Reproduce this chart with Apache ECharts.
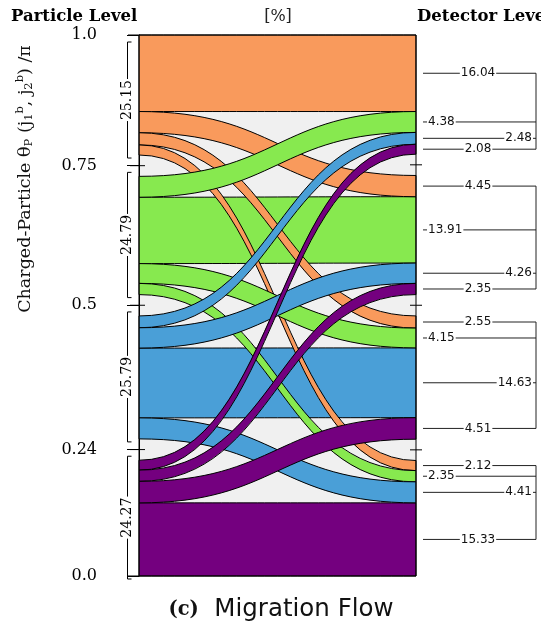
<!DOCTYPE html>
<html>
<head>
<meta charset="utf-8">
<script src="https://cdn.jsdelivr.net/npm/echarts@6/dist/echarts.min.js"></script>
<style>
  html, body { margin: 0; padding: 0; background: #fff; }
  #chart { width: 541px; height: 631px; }
</style>
</head>
<body>
<div id="chart"></div>
<script>
// Bin colours, top bin first
const binColors = ['#f99a5c', '#87e94f', '#4a9fd7', '#74007f'];
// Bin edges of the particle-level observable, top to bottom
const binEdgeLabels = ['1.0', '0.75', '0.5', '0.24', '0.0'];
// Migration fractions in percent: one row per particle-level bin,
// one column per detector-level bin (both ordered top to bottom)
const orangeRow = [16.04, 4.45, 2.55, 2.12];
const greenRow  = [4.38, 13.91, 4.15, 2.35];
const blueRow   = [2.48, 4.26, 14.63, 4.41];
const purpleRow = [2.08, 2.35, 4.51, 15.33];
// Particle-level bin totals in percent
const particleTotals = [25.15, 24.79, 25.79, 24.27];
// Empty space between neighbouring bins, in percent units
const binGap = 4.47;

const rows = [orangeRow, greenRow, blueRow, purpleRow];
const nBins = rows.length;
const sum = a => a.reduce((s, x) => s + x, 0);
const rowSums = rows.map(sum);
const colSums = rows[0].map((_, j) => sum(rows.map(r => r[j])));
const yMax = sum(rowSums) + (nBins - 1) * binGap;

// Top of every bin on each side, in axis units
const leftTops = [], rightTops = [];
let accL = yMax, accR = yMax;
for (let i = 0; i < nBins; i++) {
  leftTops.push(accL); accL -= rowSums[i] + binGap;
  rightTops.push(accR); accR -= colSums[i] + binGap;
}
const leftGapMids = [], rightGapMids = [];
for (let i = 0; i < nBins - 1; i++) {
  leftGapMids.push(leftTops[i] - rowSums[i] - binGap / 2);
  rightGapMids.push(rightTops[i] - colSums[i] - binGap / 2);
}
// Axis edge positions, bottom to top, with their labels
const edgePositions = [0].concat(leftGapMids.slice().reverse(), [yMax]);
const edgeLabelsAsc = binEdgeLabels.slice().reverse();

// One band per (particle bin, detector bin): [src, dst, value, leftTop, rightTop]
const flowItems = [];
for (let i = 0; i < nBins; i++) {
  for (let j = 0; j < nBins; j++) {
    const lt = leftTops[i] - sum(rows[i].slice(0, j));
    let rt = rightTops[j];
    for (let m = 0; m < i; m++) rt -= rows[m][j];
    flowItems.push([i, j, rows[i][j], lt, rt]);
  }
}
// Bins that stay in place are painted first, migrating bands on top
flowItems.sort((a, b) => ((a[0] !== a[1]) - (b[0] !== b[1])) || (a[0] - b[0]) || (a[1] - b[1]));

// Right-hand annotations: [dst, src, value, centre on the right edge]
const rightLabelItems = flowItems.map(f => [f[1], f[0], f[2], f[4] - f[2] / 2]);
const rightGroupItems = rightTops.map((t, j) => {
  const first = t - rows[0][j] / 2;
  const last = t - colSums[j] + rows[nBins - 1][j] / 2;
  return [j, first, last];
});
const leftBracketItems = leftTops.map((t, i) => [i, t, t - rowSums[i], particleTotals[i]]);

const serif = "'DejaVu Serif', serif";
const sans = "'DejaVu Sans', sans-serif";
const ink = '#000';

function labelFor(v) {
  let best = 0;
  edgePositions.forEach((p, k) => { if (Math.abs(p - v) < Math.abs(edgePositions[best] - v)) best = k; });
  return edgeLabelsAsc[best];
}

const chart = echarts.init(document.getElementById('chart'));
chart.setOption({
  animation: false,
  grid: { left: 139, right: 125, top: 35, bottom: 55, show: true, backgroundColor: '#f0f0f0', borderWidth: 0 },
  xAxis: { type: 'value', min: 0, max: 1, show: false },
  yAxis: {
    type: 'value', min: 0, max: yMax, offset: 23,
    axisLine: { show: true, lineStyle: { color: ink, width: 1 } },
    axisTick: { show: true, length: 12, customValues: edgePositions, lineStyle: { color: ink, width: 1 } },
    axisLabel: { customValues: edgePositions, formatter: v => labelFor(v), margin: 19,
                 fontFamily: serif, fontSize: 16, color: ink },
    splitLine: { show: false }
  },
  graphic: [
    { type: 'text', left: 11, top: 8, style: { text: 'Particle Level', font: "bold 16.5px 'DejaVu Serif'", fill: ink } },
    { type: 'text', x: 278, y: 17, style: { text: '[%]', fontSize: 16, fontFamily: serif, fill: '#222', align: 'center', verticalAlign: 'middle' } },
    { type: 'text', x: 417, y: 8, style: { text: 'Detector Level', font: "bold 16.5px 'DejaVu Serif'", fill: ink } },
    {
      type: 'text', x: 25, y: 179, rotation: Math.PI / 2,
      style: {
        text: '{n|Charged-Particle θ}{sub|P}{n| (j}{sub|1}{sup|b}{n|, j}{sub|2}{sup|b}{n|) /π}',
        align: 'center', verticalAlign: 'middle',
        rich: {
          n: { fontFamily: serif, fontSize: 17.5, lineHeight: 21, fill: '#111' },
          sub: { fontFamily: serif, fontSize: 11.5, lineHeight: 12, verticalAlign: 'bottom', fill: '#111' },
          sup: { fontFamily: serif, fontSize: 11.5, lineHeight: 12, verticalAlign: 'top', fill: '#111' }
        }
      }
    },
    {
      type: 'text', x: 281, y: 610,
      style: {
        text: '{b|(c)}{s|  Migration Flow}',
        align: 'center', verticalAlign: 'middle',
        rich: {
          b: { fontFamily: serif, fontWeight: 'bold', fontSize: 19.5, fill: '#111' },
          s: { fontFamily: sans, fontSize: 24.5, fill: '#111' }
        }
      }
    }
  ],
  series: [
    {
      // migration bands
      type: 'custom', coordinateSystem: 'cartesian2d', silent: true, clip: false, z: 2,
      data: flowItems,
      renderItem(params, api) {
        const s = api.value(0), v = api.value(2), lt = api.value(3), rt = api.value(4);
        const a = api.coord([0, lt]), ab = api.coord([0, lt - v]);
        const b = api.coord([1, rt]), bb = api.coord([1, rt - v]);
        const xm = (a[0] + b[0]) / 2;
        const d = 'M' + a[0] + ',' + a[1] +
          ' C' + xm + ',' + a[1] + ' ' + xm + ',' + b[1] + ' ' + b[0] + ',' + b[1] +
          ' L' + bb[0] + ',' + bb[1] +
          ' C' + xm + ',' + bb[1] + ' ' + xm + ',' + ab[1] + ' ' + ab[0] + ',' + ab[1] + ' Z';
        return { type: 'path', shape: { pathData: d }, style: { fill: binColors[s], stroke: ink, lineWidth: 1 } };
      }
    },
    {
      // plot frame and bin-edge ticks on both sides
      type: 'custom', coordinateSystem: 'cartesian2d', silent: true, clip: false, z: 5,
      data: [[0, 0]],
      renderItem(params, api) {
        const tl = api.coord([0, yMax]), br = api.coord([1, 0]);
        const xL = tl[0], xR = br[0];
        const kids = [{ type: 'rect', shape: { x: xL, y: tl[1], width: xR - xL, height: br[1] - tl[1] },
                        style: { fill: 'none', stroke: ink, lineWidth: 1 } }];
        [yMax, 0].forEach(v => {
          const y = api.coord([0, v])[1];
          kids.push({ type: 'line', shape: { x1: xL - 11, y1: y, x2: xL, y2: y }, style: { stroke: ink, lineWidth: 1 } });
        });
        leftGapMids.forEach(v => {
          const y = api.coord([0, v])[1];
          kids.push({ type: 'line', shape: { x1: xL - 9, y1: y, x2: xL + 6, y2: y }, style: { stroke: ink, lineWidth: 1 } });
        });
        rightGapMids.forEach(v => {
          const y = api.coord([1, v])[1];
          kids.push({ type: 'line', shape: { x1: xR - 6, y1: y, x2: xR + 6, y2: y }, style: { stroke: ink, lineWidth: 1 } });
        });
        return { type: 'group', children: kids };
      }
    },
    {
      // particle-level bin brackets with their totals
      type: 'custom', coordinateSystem: 'cartesian2d', silent: true, clip: false, z: 4,
      data: leftBracketItems,
      renderItem(params, api) {
        const top = api.value(1), bot = api.value(2), tot = api.value(3);
        const frameTop = api.coord([0, yMax])[1];
        const xL = api.coord([0, 0])[0];
        const x = xL - 11.5;
        const y1 = Math.max(api.coord([0, top])[1] - 4, frameTop + 7);
        const y2 = api.coord([0, bot])[1] + 3;
        const st = { stroke: ink, lineWidth: 1 };
        return {
          type: 'group', children: [
            { type: 'polyline', shape: { points: [[x + 4, y1], [x, y1], [x, y2], [x + 4, y2]] }, style: Object.assign({ fill: 'none' }, st) },
            { type: 'text', x: x, y: (y1 + y2) / 2, rotation: Math.PI / 2,
              style: { text: tot.toFixed(2), fontFamily: serif, fontSize: 14, fill: ink, align: 'center', verticalAlign: 'middle',
                       backgroundColor: '#fff', padding: [0, 1] } }
          ]
        };
      }
    },
    {
      // detector-level group brackets
      type: 'custom', coordinateSystem: 'cartesian2d', silent: true, clip: false, z: 3,
      data: rightGroupItems,
      renderItem(params, api) {
        const xR = api.coord([1, 0])[0];
        const y1 = api.coord([1, api.value(1)])[1], y2 = api.coord([1, api.value(2)])[1];
        return { type: 'line', shape: { x1: xR + 120, y1: y1, x2: xR + 120, y2: y2 }, style: { stroke: '#222', lineWidth: 1 } };
      }
    },
    {
      // detector-level band fractions
      type: 'custom', coordinateSystem: 'cartesian2d', silent: true, clip: false, z: 4,
      data: rightLabelItems,
      renderItem(params, api) {
        const src = api.value(1), v = api.value(2);
        const xR = api.coord([1, 0])[0];
        const y = api.coord([1, api.value(3)])[1];
        let tx = xR + 62, al = 'center';
        if (src === 1) { tx = xR + 11; al = 'left'; }
        else if (src === 2) { tx = xR + 117; al = 'right'; }
        return {
          type: 'group', children: [
            { type: 'line', shape: { x1: xR + 7, y1: y, x2: xR + 120, y2: y }, style: { stroke: '#222', lineWidth: 1 } },
            { type: 'text', x: tx, y: y,
              style: { text: v.toFixed(2), fontFamily: sans, fontSize: 12, fill: '#111', align: al, verticalAlign: 'middle',
                       backgroundColor: '#fff', padding: [0, 1] } }
          ]
        };
      }
    }
  ]
});
</script>
</body>
</html>
